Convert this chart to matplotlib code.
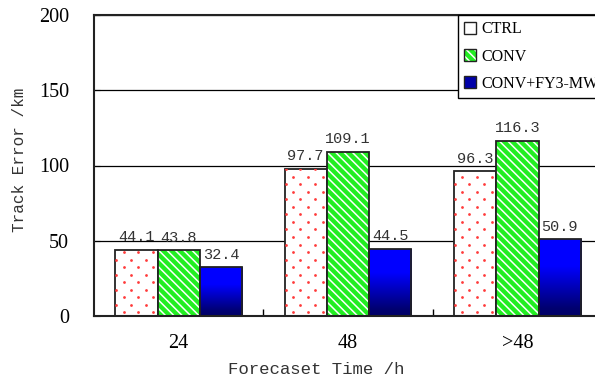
import numpy as np
import matplotlib
matplotlib.use('Agg')
import matplotlib.pyplot as plt
from matplotlib.patches import Patch
from matplotlib.legend_handler import HandlerTuple
from matplotlib.colors import LinearSegmentedColormap

# track error (km) for each forecast lead time
groups = ['24', '48', '>48']
ctrl = [44.1, 97.7, 96.3]
conv = [43.8, 109.1, 116.3]
conv_fy3 = [32.4, 44.5, 50.9]
names = ['CTRL', 'CONV', 'CONV+FY3-MW']

green = '#22ee22'
edge = '#222222'
serif = 'Liberation Serif'
mono = 'Liberation Mono'

plt.rcParams['hatch.linewidth'] = 1.1

fig = plt.figure(figsize=(5.95, 3.82), dpi=100)
ax = fig.add_axes([94 / 595, 66 / 382, 508 / 595, 301 / 382])
x = np.arange(len(groups))
w = 0.25

ax.set_axisbelow(True)
ax.yaxis.grid(True, color='black', lw=0.9)

# CTRL: white bars sprinkled with red dots
b1 = ax.bar(x - w, ctrl, w, color='white', edgecolor=edge, lw=1.3, zorder=2)
for bar in b1:
    x0, h = bar.get_x(), bar.get_height()
    px, py = [], []
    for k, yy in enumerate(np.arange(2.5, h, 5.0)):
        offs = [0.2, 0.55, 0.9] if k % 2 == 0 else [0.03, 0.37, 0.72]
        for o in offs:
            px.append(x0 + o * w)
            py.append(yy)
    sc = ax.scatter(px, py, s=4, color='#ff3b3b', lw=0, zorder=2.5)
    sc.set_clip_path(bar)

# CONV: green with white diagonal stripes
ax.bar(x, conv, w, color=green, edgecolor='white', lw=0, hatch='\\\\\\\\', zorder=2)
b2 = ax.bar(x, conv, w, fill=False, edgecolor=edge, lw=1.3, zorder=3)

# CONV+FY3-MW: blue fading to navy at the base
cmap = LinearSegmentedColormap.from_list(
    'bluefade', [(0, '#000066'), (0.1, '#000070'), (0.65, '#0000ff'), (1, '#0000ff')])
b3 = ax.bar(x + w, conv_fy3, w, fill=False, edgecolor=edge, lw=1.3, zorder=3)
grad = np.linspace(0, 1, 256).reshape(-1, 1)
for bar in b3:
    x0, h = bar.get_x(), bar.get_height()
    im = ax.imshow(grad, cmap=cmap, origin='lower', aspect='auto',
                   extent=[x0, x0 + w, 0, h], zorder=2)
    im.set_clip_path(bar)

for off, vals in zip([-w, 0, w], [ctrl, conv, conv_fy3]):
    for xi, v in zip(x + off, vals):
        ax.annotate(f'{v:.1f}', (xi, v), xytext=(0, 4), textcoords='offset points',
                    ha='center', va='bottom', fontsize=11, family=mono, color='#333333')

ax.set_xlim(-0.5, 2.5)
ax.set_ylim(0, 200)
ax.set_yticks([0, 50, 100, 150, 200])
ax.set_yticklabels(['0', '50', '100', '150', '200'], family=serif, fontsize=14.5)
ax.set_xticks([0.5, 1.5])
ax.set_xticklabels([])
ax.set_xticks(x, minor=True)
ax.set_xticklabels(groups, minor=True, family=serif, fontsize=14.5)
ax.tick_params(axis='x', which='major', direction='in', length=5, width=1)
ax.tick_params(axis='x', which='minor', length=0, pad=13)
ax.tick_params(axis='y', direction='in', length=4, pad=18)

for s in ax.spines.values():
    s.set_linewidth(1.5)
    s.set_color(edge)

ax.set_xlabel('Forecaset Time /h', family=mono, fontsize=12.5, color='#333333')
ax.xaxis.set_label_coords((316 - 94) / 508, -(369 - 316) / 301)
ax.xaxis.label.set_va('center')
ax.set_ylabel('Track Error /km', family=mono, fontsize=11.5, color='#333333')
ax.yaxis.set_label_coords(-(94 - 20) / 508, (316 - 160) / 301)
ax.yaxis.label.set_va('center')

handles = [
    Patch(facecolor='white', edgecolor=edge, lw=1),
    (Patch(facecolor=green, edgecolor='white', lw=0, hatch='\\\\\\\\'),
     Patch(fill=False, edgecolor=edge, lw=1)),
    Patch(facecolor='#0000a8', edgecolor=edge, lw=1),
]
leg = ax.legend(handles, names, loc='upper left',
                bbox_to_anchor=((458 - 94) / 508, 1.0), borderaxespad=0,
                fancybox=False, edgecolor='black', framealpha=1,
                borderpad=0.4, handlelength=0.75, handleheight=0.75,
                handletextpad=0.3, labelspacing=0.7,
                prop={'family': serif, 'size': 11.5},
                handler_map={tuple: HandlerTuple(ndivide=1, pad=0)})
leg.get_frame().set_linewidth(1)
leg.set_zorder(5)

fig.savefig('out.png', dpi=100)
